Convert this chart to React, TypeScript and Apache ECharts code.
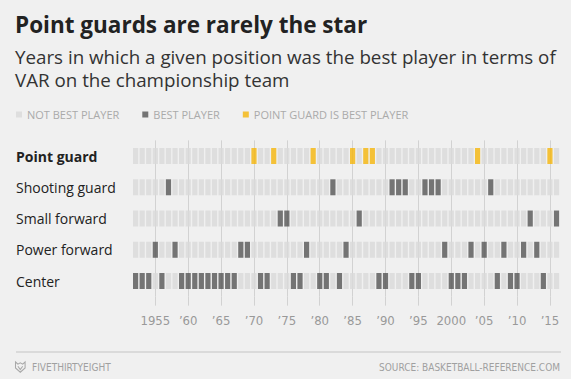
import { useEffect, useRef } from "react";
import * as echarts from "echarts";

const positions = ["Point guard", "Shooting guard", "Small forward", "Power forward", "Center"];

const years = [
  1952, 1953, 1954, 1955, 1956, 1957, 1958, 1959, 1960, 1961, 1962, 1963, 1964,
  1965, 1966, 1967, 1968, 1969, 1970, 1971, 1972, 1973, 1974, 1975, 1976, 1977,
  1978, 1979, 1980, 1981, 1982, 1983, 1984, 1985, 1986, 1987, 1988, 1989, 1990,
  1991, 1992, 1993, 1994, 1995, 1996, 1997, 1998, 1999, 2000, 2001, 2002, 2003,
  2004, 2005, 2006, 2007, 2008, 2009, 2010, 2011, 2012, 2013, 2014, 2015, 2016,
];

const pointGuardBest = [1970, 1973, 1979, 1985, 1987, 1988, 2004, 2015];
const shootingGuardBest = [1957, 1982, 1991, 1992, 1993, 1996, 1997, 1998, 2006];
const smallForwardBest = [1974, 1975, 1986, 2012, 2016];
const powerForwardBest = [1955, 1958, 1968, 1969, 1978, 1984, 1999, 2003, 2005, 2008, 2011, 2013];
const centerBest = [
  1952, 1953, 1954, 1956, 1959, 1960, 1961, 1962, 1963, 1964, 1965, 1966, 1967,
  1971, 1972, 1976, 1977, 1980, 1981, 1983, 1989, 1990, 1994, 1995, 2000, 2001,
  2002, 2007, 2009, 2010, 2014,
];

const tickYears = [1955, 1960, 1965, 1970, 1975, 1980, 1985, 1990, 1995, 2000, 2005, 2010, 2015];
const tickLabels = ["1955", "’60", "’65", "’70", "’75", "’80", "’85", "’90", "’95", "2000", "’05", "’10", "’15"];

const legendNames = ["NOT BEST PLAYER", "BEST PLAYER", "POINT GUARD IS BEST PLAYER"];

const bestByPosition = [pointGuardBest, shootingGuardBest, smallForwardBest, powerForwardBest, centerBest];

const notBestCells: number[][] = [];
const bestCells: number[][] = [];
const pointGuardCells: number[][] = [];
positions.forEach((_, i) => {
  years.forEach((y) => {
    if (bestByPosition[i].includes(y)) {
      (i === 0 ? pointGuardCells : bestCells).push([y, i]);
    } else {
      notBestCells.push([y, i]);
    }
  });
});

const SANS = "'Open Sans', Roboto, sans-serif";
const NARROW = "'Liberation Sans Narrow', 'DejaVu Sans Condensed', sans-serif";

export default function App() {
  const ref = useRef<HTMLDivElement>(null);
  useEffect(() => {
    if (!ref.current) return;
    const chart = echarts.init(ref.current, undefined, { renderer: "svg" });
    const cellSize = [5.2, 16];
    echarts.graphic.registerShape(
      "logo",
      echarts.graphic.extendPath("M0 0 L3 2.5 L6 1 L9 2.5 L12 0 L12 7 L6 12 L0 7 Z M3 5 L6 9 L9 5", {})
    );
    chart.setOption({
      animation: false,
      backgroundColor: "#f0f0f0",
      title: {
        text: "Point guards are rarely the star",
        subtext: "Years in which a given position was the best player in terms of\nVAR on the championship team",
        left: 15,
        top: 13,
        padding: 0,
        itemGap: 9,
        textStyle: { fontSize: 22.5, fontWeight: "bold", color: "#222", fontFamily: SANS },
        subtextStyle: { fontSize: 18.75, color: "#333", lineHeight: 23, fontFamily: SANS },
      },
      legend: {
        data: legendNames,
        left: 16,
        top: 109,
        padding: 0,
        itemGap: 23,
        itemWidth: 6,
        itemHeight: 6,
        icon: "rect",
        selectedMode: false,
        textStyle: { color: "#aaa", fontSize: 11, fontFamily: SANS },
      },
      grid: { left: 132.3, right: 11.2, top: 140.4, height: 156.25, outerBoundsMode: "none" },
      xAxis: {
        type: "value",
        min: 1951.5,
        max: 2016.5,
        axisLine: { show: false },
        axisTick: { show: true, customValues: tickYears, length: 9, lineStyle: { color: "#d2d2d2" } },
        splitLine: { show: true, lineStyle: { color: "#d2d2d2", width: 1 } },
        axisLabel: {
          customValues: tickYears,
          formatter: (v: number) => {
            const k = tickYears.indexOf(Math.round(v));
            return k >= 0 ? tickLabels[k] : "";
          },
          margin: 17,
          color: "#999",
          fontSize: 13,
          fontFamily: NARROW,
        },
      },
      yAxis: {
        type: "category",
        data: positions,
        inverse: true,
        axisLine: { show: false },
        axisTick: { show: false },
        splitLine: { show: false },
        axisLabel: {
          align: "left",
          margin: 116.3,
          color: "#222",
          fontSize: 14,
          fontFamily: SANS,
          formatter: (v: string) => (v === positions[0] ? `{b|${v}}` : v),
          rich: { b: { fontWeight: "bold", fontSize: 14, color: "#222", fontFamily: SANS } },
        },
      },
      series: [
        {
          name: legendNames[0],
          type: "scatter",
          symbol: "rect",
          symbolSize: cellSize,
          itemStyle: { color: "#d9d9d9" },
          data: notBestCells,
          silent: true,
          z: 2,
        },
        {
          name: legendNames[1],
          type: "scatter",
          symbol: "rect",
          symbolSize: cellSize,
          itemStyle: { color: "#555555" },
          data: bestCells,
          silent: true,
          z: 3,
        },
        {
          name: legendNames[2],
          type: "scatter",
          symbol: "rect",
          symbolSize: cellSize,
          itemStyle: { color: "#f5b50a" },
          data: pointGuardCells,
          silent: true,
          z: 4,
        },
      ],
      graphic: [
        { type: "line", shape: { x1: 16, y1: 352, x2: 561, y2: 352 }, style: { stroke: "#c4c4c4", lineWidth: 1 } },
        {
          type: "logo",
          x: 15.5,
          y: 362,
          scaleX: 0.8,
          scaleY: 0.85,
          style: { fill: "none", stroke: "#a8a8a8", lineWidth: 1.3 },
        },
        {
          type: "text",
          x: 32,
          y: 367,
          style: { text: "FIVETHIRTYEIGHT", fill: "#a0a0a0", fontSize: 10, fontFamily: NARROW, verticalAlign: "middle" },
        },
        {
          type: "text",
          x: 560,
          y: 367,
          style: {
            text: "SOURCE: BASKETBALL-REFERENCE.COM",
            fill: "#a0a0a0",
            fontSize: 10,
            fontFamily: NARROW,
            align: "right",
            verticalAlign: "middle",
          },
        },
      ],
    });
    return () => chart.dispose();
  }, []);
  return <div ref={ref} style={{ position: "fixed", left: 0, top: 0, width: 571, height: 379 }} />;
}
